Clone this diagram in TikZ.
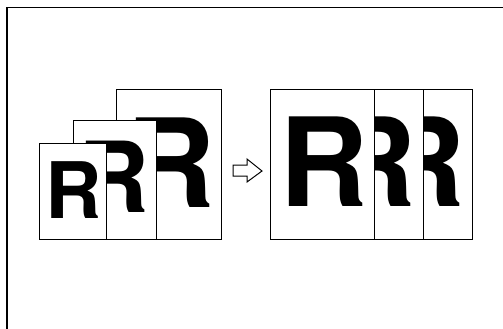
\documentclass[tikz,border=0pt]{standalone}
\usepackage{fontspec}
\newfontfamily\rfont{TeX Gyre Heros}
\begin{document}
\begin{tikzpicture}[x=1pt,y=-1pt,
  page/.style={draw=black,fill=white,line width=1pt},
  bigr/.style={inner sep=0pt,anchor=base west,font=\rfont\bfseries\fontsize{#1}{#1}\selectfont},
  framestyle/.style={draw=black,line width=1.3pt}]
\useasboundingbox (0,0) rectangle (503,329);
\draw[framestyle] (7,340) -- (7,7.5) -- (515,7.5);
% left group
\path[page] (116,89) rectangle (221,239);
\node[bigr=123] (rl3) at (126,207) {R};
\path[page] (73,120) rectangle (156,239);
\node[bigr=98] (rl2) at (78,212) {R};
\path[page] (39,143) rectangle (106,239);
\node[bigr=78] (rl1) at (45,218) {R};
% arrow
\draw[line width=1pt,fill=white,line join=miter] (233,165) -- (247,165) -- (247,159) -- (262,171) -- (247,182) -- (247,176) -- (233,176) -- cycle;
% right group
\path[page] (367,89) rectangle (472,239);
\node[bigr=123] (rr3) at (376,206) {R};
\path[page] (318,89) rectangle (423,239);
\node[bigr=123] (rr2) at (327,206) {R};
\path[page] (270,89) rectangle (374,239);
\node[bigr=123] (rr1) at (279,206) {R};
\end{tikzpicture}
\end{document}
